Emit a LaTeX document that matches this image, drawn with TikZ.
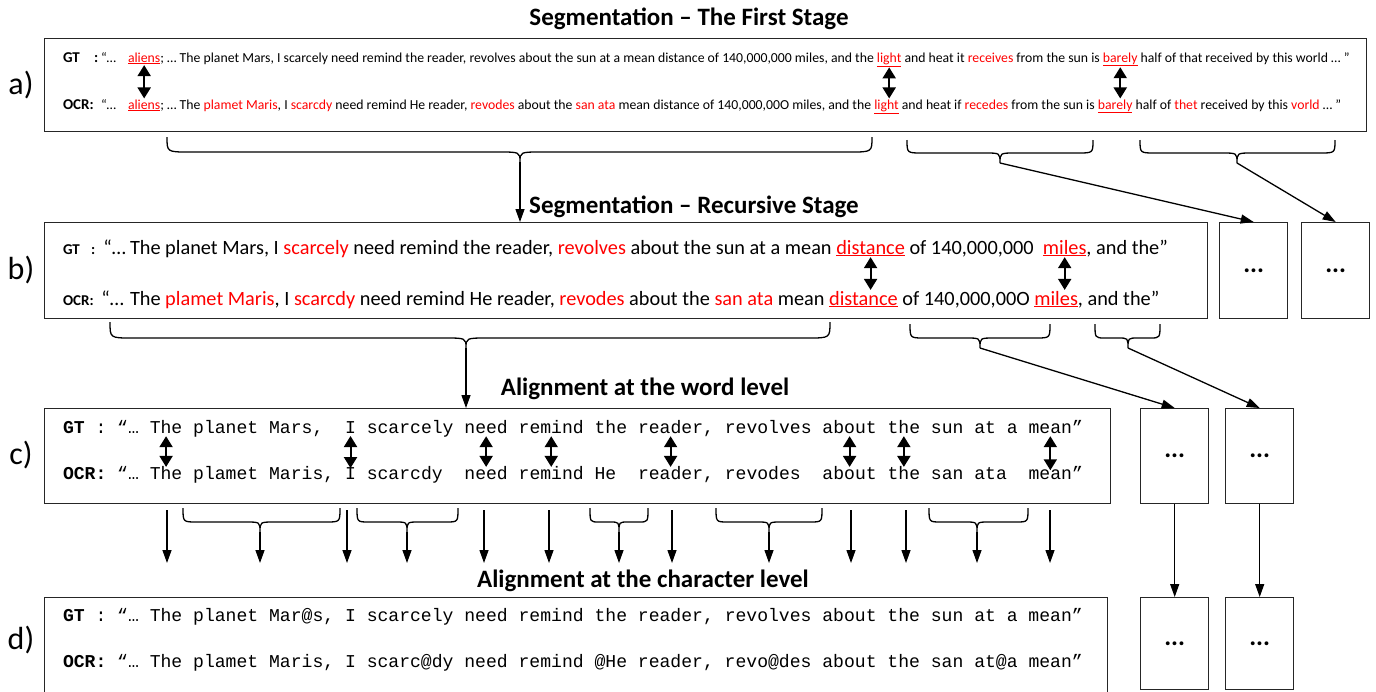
\documentclass[tikz,border=0pt]{standalone}
\usepackage{fontspec}
\setmainfont{Carlito}
\newfontfamily\monof{Liberation Mono}
\usetikzlibrary{arrows.meta,calc}
\definecolor{myred}{RGB}{255,0,0}
\frenchspacing
\newcommand\tsp{\ \mbox{}}
\newcommand\mkseg[4]{\node[#1] (#2) at (#3.base east) {#4};}
\newcommand\ubr[7]{%
 \draw[brc] (#2,#5) .. controls (#2,#6) .. (#2+#7,#6) -- (#4-#7,#6) .. controls (#4,#6) .. (#4,#6+10)
   (#3,#5) .. controls (#3,#6) .. (#3-#7,#6) -- (#4+#7,#6) .. controls (#4,#6) .. (#4,#6+10);
 \coordinate (#1) at (#4,#6+10);}
\tikzset{
 box/.style={draw=black!85, line width=1.4pt, inner sep=0pt, anchor=north west},
 seg/.style={inner sep=0pt, outer sep=0pt, anchor=base west},
 sa/.style={seg, font=\fontsize{13.75}{15}\selectfont},
 sar/.style={sa, text=myred},
 sb/.style={seg, font=\fontsize{20.3}{22}\selectfont},
 sbr/.style={sb, text=myred},
 sm/.style={seg, font=\monof\fontsize{18.08}{20}\selectfont},
 lab/.style={seg, font=\bfseries\fontsize{15}{17}\selectfont},
 ttl/.style={font=\bfseries\fontsize{25}{28}\selectfont, inner sep=0pt, anchor=base},
 rowlab/.style={font=\fontsize{32}{36}\selectfont, inner sep=0pt},
 dots/.style={font=\bfseries\fontsize{26}{28}\selectfont},
 dbl/.style={{Triangle[width=13pt,length=11pt]}-{Triangle[width=13pt,length=11pt]}, line width=2pt, shorten <=1pt, shorten >=1pt},
 arr/.style={-{Triangle[width=9pt,length=13pt]}, line width=1.3pt},
 brc/.style={line width=1.3pt},
}
\begin{document}
\begin{tikzpicture}[x=1pt,y=-1pt]
\useasboundingbox (0,0) rectangle (1376,691);
\clip (0,0) rectangle (1376,691);

% titles
\node[ttl] (t1) at (689,25) {Segmentation – The First Stage};
\node[ttl] (t2) at (694,213) {Segmentation – Recursive Stage};
\node[ttl] (t3) at (645,395) {Alignment at the word level};
\node[ttl] (t4) at (643,587) {Alignment at the character level};

% row labels
\node[rowlab] (la) at (21,85) {a)};
\node[rowlab] (lb) at (21,270) {b)};
\node[rowlab] (lc) at (21,455) {c)};
\node[rowlab] (ld) at (21,640) {d)};

% boxes
\node[box, minimum width=1322pt, minimum height=93pt] (A) at (44,38) {};
\node[box, minimum width=1163pt, minimum height=96pt] (B) at (44,222) {};
\node[box, minimum width=68pt, minimum height=96pt, dots] (bs1) at (1219,222) {...};
\node[box, minimum width=68pt, minimum height=96pt, dots] (bs2) at (1301,222) {...};
\node[box, minimum width=1066pt, minimum height=95pt] (C) at (44,408) {};
\node[box, minimum width=68pt, minimum height=95pt, dots] (cs1) at (1140,408) {...};
\node[box, minimum width=68pt, minimum height=95pt, dots] (cs2) at (1225,408) {...};
\node[box, minimum width=1063pt, minimum height=96pt] (D) at (44,597) {};
\node[box, minimum width=68pt, minimum height=92pt, dots] (ds1) at (1140,597) {...};
\node[box, minimum width=68pt, minimum height=92pt, dots] (ds2) at (1225,597) {...};

% ---- row a GT
\node[lab] (aGl) at (63,62) {GT};
\node[lab] (aGc) at (94,62) {:};
\node[sa] (aGq) at (101,62) {“…};
\node[sar] (aGali) at (128,62) {\underline{aliens}};
\mkseg{sa}{aG1}{aGali}{;\ …\ The planet Mars, I scarcely need remind the reader, revolves about the sun at a mean distance of 140,000,000 miles, and the\tsp}
\mkseg{sar}{aGlight}{aG1}{\underline{light}}
\mkseg{sa}{aG2}{aGlight}{\ and heat it\tsp}
\mkseg{sar}{aG3}{aG2}{receives}
\mkseg{sa}{aG4}{aG3}{\ from the sun is\tsp}
\mkseg{sar}{aGbar}{aG4}{\underline{barely}}
\mkseg{sa}{aG5}{aGbar}{\ half of that received by this world …\ ”}
% ---- row a OCR
\node[lab] (aOl) at (63,109) {OCR:};
\node[sa] (aOq) at (101,109) {“…};
\node[sar] (aOali) at (128,109) {\underline{aliens}};
\mkseg{sa}{aO1}{aOali}{;\ …\ The\tsp}
\mkseg{sar}{aO2}{aO1}{plamet Maris}
\mkseg{sa}{aO3}{aO2}{, I\tsp}
\mkseg{sar}{aO4}{aO3}{scarcdy}
\mkseg{sa}{aO5}{aO4}{\ need remind He reader,\tsp}
\mkseg{sar}{aO6}{aO5}{revodes}
\mkseg{sa}{aO7}{aO6}{\ about the\tsp}
\mkseg{sar}{aO8}{aO7}{san ata}
\mkseg{sa}{aO9}{aO8}{\ mean distance of 140,000,00O miles, and the\tsp}
\mkseg{sar}{aOlight}{aO9}{\underline{light}}
\mkseg{sa}{aO10}{aOlight}{\ and heat if\tsp}
\mkseg{sar}{aO11}{aO10}{recedes}
\mkseg{sa}{aO12}{aO11}{\ from the sun is\tsp}
\mkseg{sar}{aObar}{aO12}{\underline{barely}}
\mkseg{sa}{aO13}{aObar}{\ half of\tsp}
\mkseg{sar}{aO14}{aO13}{thet}
\mkseg{sa}{aO15}{aO14}{\ received by this\tsp}
\mkseg{sar}{aO16}{aO15}{vorld}
\mkseg{sa}{aO17}{aO16}{\ …\ ”}
\draw[dbl] (aGali.south) -- (aGali.south |- aOali.north);
\draw[dbl] (aGlight.south) -- (aGlight.south |- aOlight.north);
\draw[dbl] (aGbar.south) -- (aGbar.south |- aObar.north);

% ---- row b GT
\node[lab] (bGl) at (63,254) {GT};
\node[lab] (bGc) at (91,254) {:};
\node[sb, anchor=base east] (bGq) at (126,254) {“…};
\node[sb] (bG1) at (130,254) {The planet Mars, I\tsp};
\mkseg{sbr}{bG2}{bG1}{scarcely}
\mkseg{sb}{bG3}{bG2}{\ need remind the reader,\tsp}
\mkseg{sbr}{bG4}{bG3}{revolves}
\mkseg{sb}{bG5}{bG4}{\ about the sun at a mean\tsp}
\mkseg{sbr}{bGdist}{bG5}{\underline{distance}}
\mkseg{sb}{bG6}{bGdist}{\ of 140,000,000\ \tsp}
\mkseg{sbr}{bGmil}{bG6}{\underline{miles}}
\mkseg{sb}{bG7}{bGmil}{, and the”}
% ---- row b OCR
\node[lab] (bOl) at (63,305) {OCR:};
\node[sb, anchor=base east] (bOq) at (124,305) {“…};
\node[sb] (bO1) at (130,305) {The\tsp};
\mkseg{sbr}{bO2}{bO1}{plamet Maris}
\mkseg{sb}{bO3}{bO2}{, I\tsp}
\mkseg{sbr}{bO4}{bO3}{scarcdy}
\mkseg{sb}{bO5}{bO4}{\ need remind He reader,\tsp}
\mkseg{sbr}{bO6}{bO5}{revodes}
\mkseg{sb}{bO7}{bO6}{\ about the\tsp}
\mkseg{sbr}{bO8}{bO7}{san ata}
\mkseg{sb}{bO9}{bO8}{\ mean\tsp}
\mkseg{sbr}{bOdist}{bO9}{\underline{distance}}
\mkseg{sb}{bO10}{bOdist}{\ of 140,000,00O\tsp}
\mkseg{sbr}{bOmil}{bO10}{\underline{miles}}
\mkseg{sb}{bO11}{bOmil}{, and the”}
\draw[dbl] (bGdist.south) -- (bGdist.south |- bOdist.north);
\draw[dbl] (bGmil.south) -- (bGmil.south |- bOmil.north);

% ---- row c GT
\node[sm] (cG0) at (63,433) {\textbf{GT}\ :\ “…\tsp};
\mkseg{sm}{cGThe}{cG0}{The}
\mkseg{sm}{cG1}{cGThe}{\ planet\ Mars,\ \tsp}
\mkseg{sm}{cGI}{cG1}{I}
\mkseg{sm}{cG2}{cGI}{\ scarcely\tsp}
\mkseg{sm}{cGneed}{cG2}{need}
\mkseg{sm}{cG3}{cGneed}{\tsp}
\mkseg{sm}{cGremind}{cG3}{remind}
\mkseg{sm}{cG4}{cGremind}{\ the\tsp}
\mkseg{sm}{cGreader}{cG4}{reader}
\mkseg{sm}{cG5}{cGreader}{,\ revolves\tsp}
\mkseg{sm}{cGabout}{cG5}{about}
\mkseg{sm}{cG6}{cGabout}{\tsp}
\mkseg{sm}{cGthe}{cG6}{the}
\mkseg{sm}{cG7}{cGthe}{\ sun\ at\ a\tsp}
\mkseg{sm}{cGmean}{cG7}{mean}
\mkseg{sm}{cG8}{cGmean}{”}
% ---- row c OCR
\node[sm] (cO0) at (63,479) {\textbf{OCR:}\ “…\tsp};
\mkseg{sm}{cOThe}{cO0}{The}
\mkseg{sm}{cO1}{cOThe}{\ plamet\ Maris,\tsp}
\mkseg{sm}{cOI}{cO1}{I}
\mkseg{sm}{cO2}{cOI}{\ scarcdy\ \tsp}
\mkseg{sm}{cOneed}{cO2}{need}
\mkseg{sm}{cO3}{cOneed}{\tsp}
\mkseg{sm}{cOremind}{cO3}{remind}
\mkseg{sm}{cO4}{cOremind}{\ He\ \tsp}
\mkseg{sm}{cOreader}{cO4}{reader}
\mkseg{sm}{cO5}{cOreader}{,\ revodes\ \tsp}
\mkseg{sm}{cOabout}{cO5}{about}
\mkseg{sm}{cO6}{cOabout}{\tsp}
\mkseg{sm}{cOthe}{cO6}{the}
\mkseg{sm}{cO7}{cOthe}{\ san\ ata\ \tsp}
\mkseg{sm}{cOmean}{cO7}{mean}
\mkseg{sm}{cO8}{cOmean}{”}
\foreach \w in {The,I,need,remind,reader,about,the,mean}{
  \draw[dbl] ([yshift=-2pt]cG\w.south) -- ([yshift=-2pt]cO\w.north);
}

% ---- row d
\node[sm] (dG) at (63,621) {\textbf{GT}\ :\ “…\ The planet Mar@s, I scarcely need remind the reader, revolves about the sun at a mean”};
\node[sm] (dO) at (63,667) {\textbf{OCR:}\ “…\ The plamet Maris, I scarc@dy need remind @He reader, revo@des about the san at@a mean”};

% ---- braces below a
\ubr{ta1}{167}{872}{520}{137}{152}{22}
\ubr{ta2}{907}{1093}{1000}{140}{153}{15}
\ubr{ta3}{1140}{1335}{1237}{140}{153}{15}
\draw[arr] (ta1) -- (ta1 |- B.north);
\draw[arr] (ta2) -- (bs1.north);
\draw[arr] (ta3) -- (bs2.north);

% ---- braces below b
\ubr{tb1}{110}{830}{466}{322}{338}{22}
\ubr{tb2}{910}{1050}{980}{324}{338}{14}
\ubr{tb3}{1095}{1160}{1128}{324}{338}{10}
\draw[arr] (tb1) -- (tb1 |- C.north);
\draw[arr] (tb2) -- (cs1.north);
\draw[arr] (tb3) -- (cs2.north);

% ---- between c and d
\coordinate (cdbot) at (0,563);
\ubr{tc1}{183}{340}{260}{508}{522}{14}
\ubr{tc2}{357}{458}{407}{508}{522}{12}
\ubr{tc3}{590}{648}{619}{508}{522}{9}
\ubr{tc4}{716}{822}{769}{508}{522}{12}
\ubr{tc5}{929}{1028}{977}{508}{522}{12}
\foreach \t in {tc1,tc2,tc3,tc4,tc5}{\draw[arr] (\t) -- (\t |- cdbot);}
\foreach \x [count=\i] in {167,347,484,549,672,851,906,1050}{
  \coordinate (s\i) at (\x,510);
  \draw[arr] (s\i) -- (s\i |- cdbot);
}
\draw[arr] (cs1.south) -- (ds1.north);
\draw[arr] (cs2.south) -- (ds2.north);
\end{tikzpicture}
\end{document}
